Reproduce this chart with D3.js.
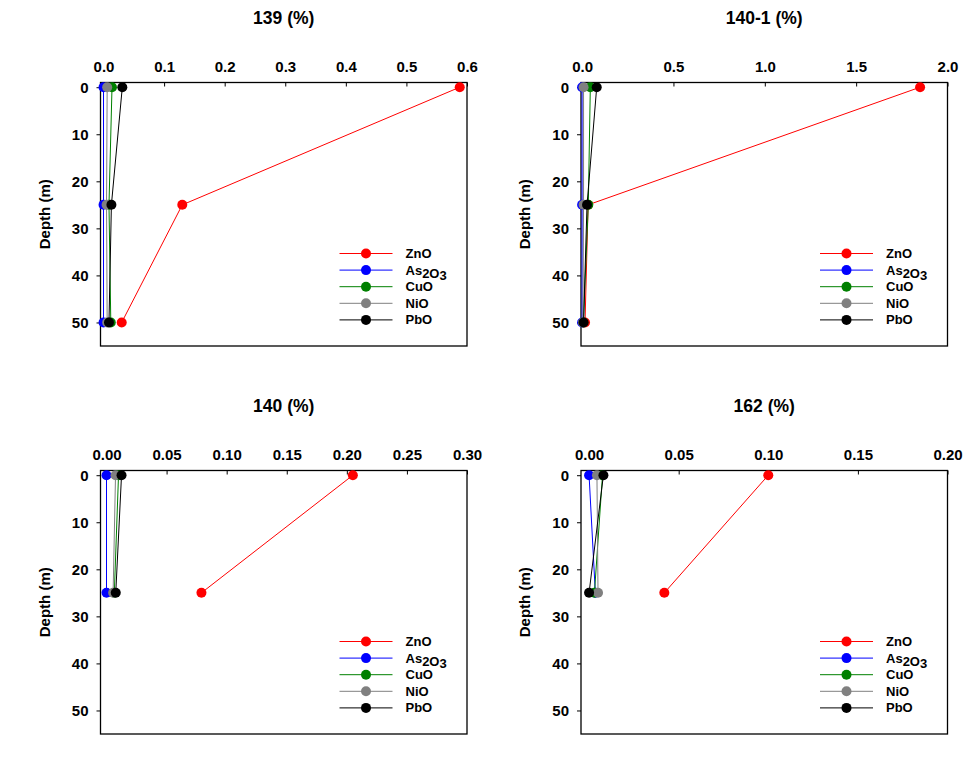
<!DOCTYPE html>
<html><head><meta charset="utf-8">
<script src="https://cdn.jsdelivr.net/npm/d3@7"></script>
<style>body{margin:0;background:#fff}svg{display:block}text{font-family:Arial,"Liberation Sans",sans-serif;font-weight:bold}</style>
</head><body><svg id="c" width="980" height="772"></svg>
<script>
// ---- data ----
const seriesNames = ["ZnO", "As2O3", "CuO", "NiO", "PbO"];
const seriesColors = ["#ff0000", "#0000ff", "#008000", "#808080", "#000000"];
const panelTitles = ["139 (%)", "140-1 (%)", "140 (%)", "162 (%)"];
const depthTicks = [0, 10, 20, 30, 40, 50];
// depths sampled per panel
const depths139 = [0, 25, 50];
const depths1401 = [0, 25, 50];
const depths140 = [0, 25];
const depths162 = [0, 25];
// values per series (ZnO, As2O3, CuO, NiO, PbO)
const v139 = [[0.588, 0.130, 0.030], [0.000, 0.000, 0.000], [0.014, 0.009, 0.012], [0.006, 0.005, 0.006], [0.031, 0.013, 0.009]];
const v1401 = [[1.85, 0.033, 0.016], [0.000, 0.000, 0.000], [0.045, 0.034, 0.007], [0.008, 0.008, 0.005], [0.080, 0.027, 0.008]];
const v140 = [[0.205, 0.079], [0.000, 0.000], [0.010, 0.0065], [0.0075, 0.0055], [0.0125, 0.0077]];
const v162 = [[0.100, 0.042], [0.000, 0.0035], [0.0075, 0.003], [0.0044, 0.005], [0.008, 0.000]];
// x tick values per panel
const ticks139 = [0, 0.1, 0.2, 0.3, 0.4, 0.5, 0.6];
const ticks1401 = [0, 0.5, 1.0, 1.5, 2.0];
const ticks140 = [0, 0.05, 0.10, 0.15, 0.20, 0.25, 0.30];
const ticks162 = [0, 0.05, 0.10, 0.15, 0.20];
const xDomains = [[-0.005, 0.6], [-0.006, 2.0], [-0.005, 0.3], [-0.0045, 0.2]];
const tickFormats = [".1f", ".1f", ".2f", ".2f"];
const depthDomain = [-1, 55];

const panels = [
  {title: panelTitles[0], depths: depths139, values: v139, ticks: ticks139, dom: xDomains[0], fmt: tickFormats[0], x0: 100.5, y0: 82.5},
  {title: panelTitles[1], depths: depths1401, values: v1401, ticks: ticks1401, dom: xDomains[1], fmt: tickFormats[1], x0: 581, y0: 82.5},
  {title: panelTitles[2], depths: depths140, values: v140, ticks: ticks140, dom: xDomains[2], fmt: tickFormats[2], x0: 100.5, y0: 470.5},
  {title: panelTitles[3], depths: depths162, values: v162, ticks: ticks162, dom: xDomains[3], fmt: tickFormats[3], x0: 581, y0: 470.5}
];
const W = 366.5, H = 263.5;
const svg = d3.select("#c");

panels.forEach(p => {
  const g = svg.append("g").attr("transform", `translate(${p.x0},${p.y0})`);
  const x = d3.scaleLinear().domain(p.dom).range([0, W]);
  const y = d3.scaleLinear().domain(depthDomain).range([0, H]);

  // title
  g.append("text").attr("x", W / 2).attr("y", -58.5).attr("text-anchor", "middle")
    .attr("font-size", "17.5px").text(p.title);

  // x axis on top, ticks pointing inward
  const xa = g.append("g").call(d3.axisTop(x).tickValues(p.ticks).tickFormat(d3.format(p.fmt)).tickSizeInner(-4).tickSizeOuter(0).tickPadding(11));
  xa.select(".domain").remove();
  xa.selectAll("text").attr("font-size", "15px").attr("font-family", "Arial, 'Liberation Sans', sans-serif").attr("font-weight", "bold").attr("fill", "#000");
  xa.selectAll("line").attr("stroke", "#000");

  // y axis, ticks outward
  const ya = g.append("g").call(d3.axisLeft(y).tickValues(depthTicks).tickSizeInner(4).tickSizeOuter(0).tickPadding(8));
  ya.select(".domain").remove();
  ya.selectAll("text").attr("font-size", "15px").attr("font-family", "Arial, 'Liberation Sans', sans-serif").attr("font-weight", "bold").attr("fill", "#000");
  ya.selectAll("line").attr("stroke", "#000");

  // y label
  g.append("text").attr("transform", `translate(${-51},${H / 2}) rotate(-90)`)
    .attr("text-anchor", "middle").attr("font-size", "15px").text("Depth (m)");

  // box
  g.append("rect").attr("x", 0).attr("y", 0).attr("width", W).attr("height", H)
    .attr("fill", "none").attr("stroke", "#000").attr("stroke-width", 1.3);

  // series
  const line = d3.line().x(d => x(d[0])).y(d => y(d[1]));
  p.values.forEach((vals, si) => {
    const pts = vals.map((v, i) => [v, p.depths[i]]);
    g.append("path").attr("d", line(pts)).attr("fill", "none")
      .attr("stroke", seriesColors[si]).attr("stroke-width", 1);
    g.selectAll(null).data(pts).enter().append("circle")
      .attr("cx", d => x(d[0])).attr("cy", d => y(d[1])).attr("r", 5)
      .attr("fill", seriesColors[si]);
  });

  // legend
  const lg = g.append("g").attr("transform", `translate(239,171)`);
  seriesNames.forEach((name, i) => {
    const ry = i * 16.6;
    lg.append("line").attr("x1", 0).attr("x2", 53).attr("y1", ry).attr("y2", ry)
      .attr("stroke", seriesColors[i]).attr("stroke-width", 1);
    lg.append("circle").attr("cx", 26.5).attr("cy", ry).attr("r", 5).attr("fill", seriesColors[i]);
    const t = lg.append("text").attr("x", 66).attr("y", ry + 4.5).attr("font-size", "13px");
    if (name === "As2O3") {
      t.append("tspan").text("As");
      t.append("tspan").attr("dy", 3).text("2");
      t.append("tspan").text("O");
      t.append("tspan").attr("dy", 2).text("3");
    } else {
      t.text(name);
    }
  });
});
</script></body></html>
